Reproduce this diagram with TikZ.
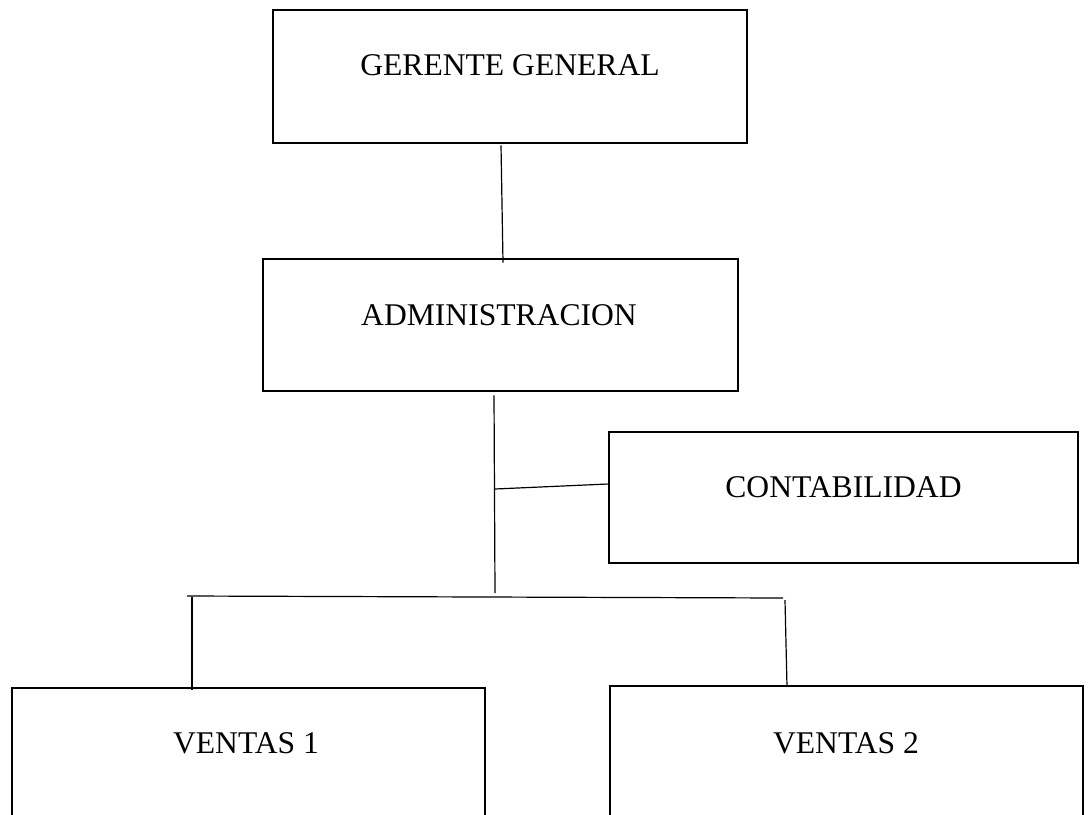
\documentclass[tikz,border=0pt]{standalone}
\usepackage{fontspec}
\setmainfont{Liberation Serif}
\usetikzlibrary{calc}

\tikzset{
    box/.style={draw,rectangle,line width=1.9pt,inner sep=0pt},
    txt/.style={anchor=base,inner sep=0pt,font=\fontsize{23.7}{28}\selectfont},
    conn/.style={line width=0.9pt}
}

\begin{document}
\begin{tikzpicture}[x=0.75pt,y=-0.75pt]
        \useasboundingbox (0,0) rectangle (1088,814);
        \clip (0,0) rectangle (1088,814);

        \node[box,minimum width=355.5pt,minimum height=99.75pt]  (ger) at (510,76.5)   {};
        \node[box,minimum width=356.25pt,minimum height=99pt]    (adm) at (500.5,325)  {};
        \node[box,minimum width=351.75pt,minimum height=98.25pt] (con) at (843.5,497.5) {};
        \node[box,minimum width=354.75pt,minimum height=105pt]   (v1)  at (248.5,758)  {};
        \node[box,minimum width=354.75pt,minimum height=105pt]   (v2)  at (846.5,756)  {};

        \node[txt] (gerT) at (510,75)   {GERENTE GENERAL};
        \node[txt] (admT) at (499,325)  {ADMINISTRACION};
        \node[txt] (conT) at (843.5,497) {CONTABILIDAD};
        \node[txt] (v1T)  at (246,753)  {VENTAS 1};
        \node[txt] (v2T)  at (846,753)  {VENTAS 2};

        \coordinate (mid)  at (495,489);
        \coordinate (foot) at (495,593);
        \coordinate (barL) at (187,596);
        \coordinate (barR) at (783,598);
        \coordinate (dropL) at (192,597);
        \coordinate (dropR) at (785,600);

        \draw[conn] ($(ger.south)+(-9,1)$) -- ($(adm.north)+(2.5,5)$);
        \draw[conn] ($(adm.south)+(-6.5,3)$) -- (foot);
        \draw[conn] (mid) -- ($(con.west)+(0,-13.5)$);
        \draw[conn] (barL) -- (barR);
        \draw[conn] (dropL) -- ($(v1.north)+(-56.5,3)$);
        \draw[conn] (dropR) -- ($(v2.north)+(-59.5,2)$);
    \end{tikzpicture}
\end{document}
